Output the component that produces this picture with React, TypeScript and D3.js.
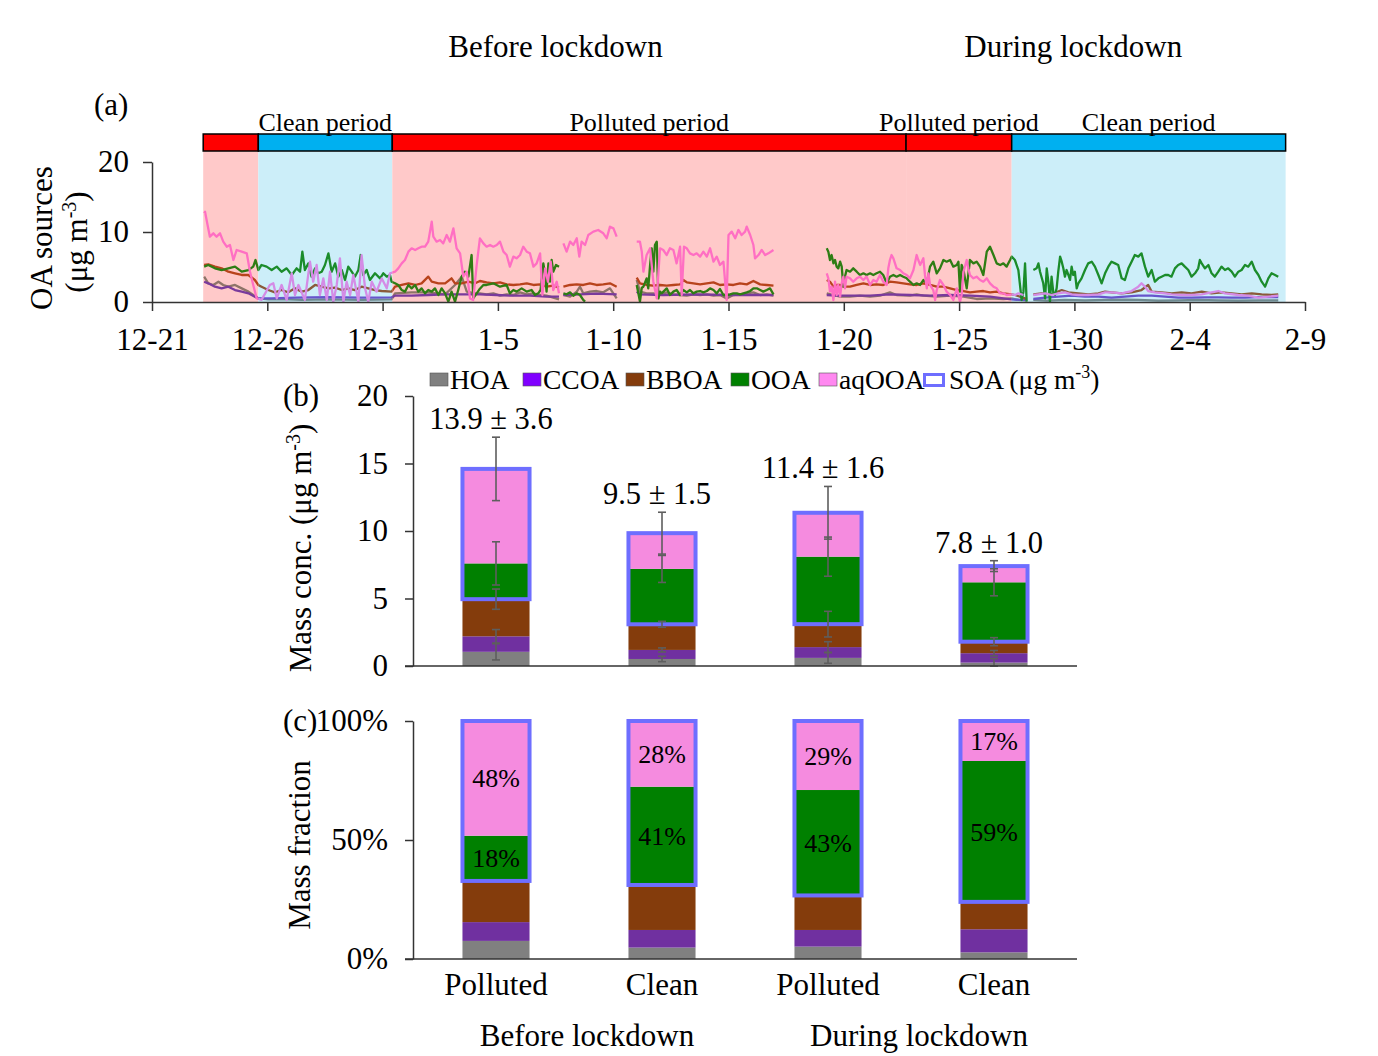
import { useEffect, useRef } from "react";
import * as d3 from "d3";

const FONT = "'Liberation Serif', 'Times New Roman', Times, serif";

// ---------- (a) time series ----------
// x = days after 2019-12-21 00:00, y = µg m-3, null marks a data gap
const seriesStart = new Date(2019, 11, 21);
const axisDays = [0, 5, 10, 15, 20, 25, 30, 35, 40, 45, 50];
const periodEdges = [2.22, 4.61, 10.42, 32.7, 37.28, 49.16];
const periodKinds = ["polluted", "clean", "polluted", "polluted", "clean"];
const periodNames = ["", "Clean period", "Polluted period", "Polluted period", "Clean period"];
const phaseNames = ["Before lockdown", "During lockdown"];
const phaseDays = [17.5, 39.95];

type Pt = [number, number | null];

const hoaTs: Pt[] = [
  [2.26, 3.62], [2.44, 2.67], [2.66, 2.43], [2.88, 2.9], [3.09, 2.43], [3.31, 2.19], [3.6, 2.43], [3.89, 1.95],
  [4.18, 1.48], [4.39, 1.0], [4.61, 0.52], [5.04, 0.38], [5.91, 0.38], [6.49, 0.29], [7.65, 0.38], [9.09, 0.29],
  [10.39, 0.38], [10.54, 1.24], [11.26, 1.38], [11.98, 1.38], [12.71, 1.1], [13.14, 2.43], [13.43, 3.62],
  [13.65, 1.48], [14.01, 1.24], [14.22, 1.24], [14.51, 1.1], [14.8, 1.24], [15.09, 0.9], [15.38, 1.1],
  [15.67, 1.0], [15.96, 1.38], [16.25, 1.1], [16.54, 1.24], [16.83, 1.0], [17.11, 0.9], [17.4, 0.62],
  [17.65, 0.38], [17.7, null],
  [17.84, 1.0], [18.13, 0.76], [18.42, 1.48], [18.56, 2.19], [18.7, 1.24], [18.99, 1.48], [19.28, 1.57],
  [19.57, 1.38], [19.86, 1.95], [20.15, 0.52], [20.3, null],
  [21.02, 3.14], [21.16, 1.48], [21.45, 1.24], [21.74, 1.24], [22.03, 1.1], [22.32, 1.38], [22.61, 1.1],
  [22.9, 1.0], [23.19, 0.9], [23.48, 1.1], [23.77, 1.0], [24.06, 1.1], [24.35, 0.9], [24.63, 1.0], [24.92, 0.52],
  [25.21, 1.0], [25.5, 1.1], [25.79, 1.24], [26.08, 1.38], [26.37, 1.0], [26.66, 1.1], [26.95, 0.9], [27.0, null],
  [29.26, 1.24], [29.55, 1.0], [29.84, 0.76], [30.27, 0.76], [30.7, 0.9], [31.14, 0.76], [31.57, 0.9],
  [32.0, 1.38], [32.29, 1.0], [32.87, 0.9], [33.16, 1.1], [33.45, 0.9], [34.03, 0.76], [34.61, 0.9],
  [35.19, 0.76], [35.76, 0.43], [36.34, 0.52], [36.92, 0.43], [37.28, 0.52], [37.57, 0.29], [37.93, 0.25],
  [38.05, null],
  [38.22, 0.29], [38.8, 0.19], [39.59, 0.29], [40.46, 0.24], [41.33, 0.29], [42.19, 0.33], [42.77, 0.29],
  [43.64, 0.19], [44.5, 0.24], [45.37, 0.29], [46.24, 0.24], [47.11, 0.19], [47.98, 0.24], [48.84, 0.24],
];

const ccoaTs: Pt[] = [
  [2.26, 2.9], [2.44, 2.67], [2.73, 2.19], [3.02, 1.95], [3.31, 2.19], [3.6, 1.71], [3.89, 1.48], [4.18, 1.24],
  [4.46, 0.76], [4.61, 0.52], [5.19, 0.52], [6.2, 0.62], [7.65, 0.71], [9.09, 0.62], [10.39, 0.67],
  [10.54, 0.9], [11.26, 0.9], [11.98, 1.0], [12.71, 1.1], [13.43, 1.1], [14.22, 1.1], [14.95, 1.0],
  [15.67, 0.9], [16.39, 0.9], [17.11, 0.76], [17.65, 0.76], [17.7, null],
  [17.84, 1.0], [18.56, 1.1], [19.28, 1.19], [20.15, 1.1], [20.3, null],
  [21.02, 1.48], [21.16, 1.1], [22.17, 1.0], [23.62, 1.1], [25.07, 1.0], [26.95, 1.0], [27.0, null],
  [29.26, 1.0], [29.69, 0.9], [30.27, 0.9], [31.14, 0.9], [32.0, 1.1], [32.87, 1.0], [33.74, 0.9],
  [34.61, 1.0], [35.47, 0.9], [36.34, 0.76], [36.92, 0.52], [37.28, 0.38], [37.71, 0.29], [37.93, 0.3],
  [38.05, null],
  [38.22, 0.43], [38.73, 0.62], [39.3, 0.76], [39.88, 0.9], [40.46, 0.76], [41.04, 0.76], [41.61, 0.62],
  [42.19, 0.76], [42.77, 0.9], [43.35, 0.9], [43.93, 0.76], [44.5, 0.62], [45.08, 0.62], [45.66, 0.67],
  [46.24, 0.67], [46.82, 0.62], [47.4, 0.62], [47.98, 0.71], [48.84, 0.71],
];

const bboaTs: Pt[] = [
  [2.26, 5.29], [2.44, 5.38], [2.73, 5.05], [3.02, 4.81], [3.31, 4.33], [3.6, 4.1], [3.89, 3.86], [4.18, 3.86],
  [4.46, 3.14], [4.61, 2.43], [4.75, 2.19], [5.04, 1.71], [5.33, 1.38], [5.62, 1.71], [5.91, 1.38], [6.2, 1.95],
  [6.49, 1.48], [6.78, 1.71], [7.07, 2.43], [7.36, 2.19], [7.65, 1.95], [7.94, 2.05], [8.23, 1.71], [8.51, 1.95],
  [8.8, 1.71], [9.09, 2.19], [9.38, 1.95], [9.67, 1.71], [9.96, 1.57], [10.39, 1.48],
  [10.54, 2.19], [10.83, 2.43], [11.12, 2.67], [11.41, 2.43], [11.69, 2.67], [11.98, 3.62], [12.13, 2.9],
  [12.42, 2.67], [12.71, 2.67], [12.99, 3.38], [13.14, 2.67], [13.43, 2.67], [13.72, 2.9], [14.01, 2.67],
  [14.22, 3.0], [14.51, 2.81], [14.8, 2.67], [15.09, 2.81], [15.38, 2.52], [15.67, 2.43], [15.96, 2.52],
  [16.25, 2.67], [16.54, 2.43], [16.83, 2.52], [17.11, 2.19], [17.4, 2.33], [17.65, 2.05], [17.7, null],
  [17.84, 2.19], [18.13, 2.43], [18.42, 2.52], [18.7, 2.43], [18.99, 2.67], [19.28, 2.43], [19.57, 2.52],
  [19.86, 2.67], [20.15, 2.19], [20.3, null],
  [21.02, 3.48], [21.16, 2.67], [21.45, 2.43], [21.74, 2.33], [22.03, 2.43], [22.32, 2.33], [22.61, 2.43],
  [22.9, 2.52], [23.04, 3.14], [23.19, 2.81], [23.48, 2.67], [23.77, 2.52], [24.06, 2.67], [24.35, 2.81],
  [24.63, 2.43], [24.92, 2.52], [25.21, 2.43], [25.5, 2.67], [25.79, 2.52], [26.08, 3.0], [26.37, 2.52],
  [26.66, 2.43], [26.95, 2.33], [27.0, null],
  [29.26, 3.14], [29.4, 2.9], [29.55, 2.19], [29.69, 2.43], [29.84, 2.43], [29.98, 2.19], [30.27, 2.19],
  [30.56, 2.43], [30.85, 2.67], [31.14, 2.43], [31.42, 2.52], [31.71, 2.43], [32.0, 2.9], [32.29, 2.81],
  [32.58, 2.67], [32.87, 2.52], [33.16, 2.43], [33.45, 2.67], [33.74, 2.43], [34.03, 2.19], [34.32, 2.19],
  [34.61, 1.95], [34.9, 1.71], [35.19, 1.57], [35.47, 1.38], [35.76, 1.48], [36.05, 1.57], [36.34, 1.38],
  [36.63, 1.48], [36.92, 1.24], [37.28, 1.1], [37.42, 1.0], [37.86, 0.52], [37.93, 0.4], [38.05, null],
  [38.22, 1.1], [38.58, 1.24], [39.01, 1.1], [39.45, 1.71], [39.74, 1.38], [40.17, 1.24], [40.6, 1.1],
  [41.04, 1.24], [41.33, 1.48], [41.61, 1.38], [42.05, 1.24], [42.48, 1.38], [42.91, 1.71], [43.2, 2.43],
  [43.35, 1.48], [43.78, 1.38], [44.21, 1.24], [44.65, 1.38], [45.08, 1.24], [45.52, 1.48], [45.95, 1.24],
  [46.38, 1.38], [46.82, 1.24], [47.25, 1.1], [47.69, 1.24], [48.12, 1.1], [48.55, 1.0], [48.84, 1.1],
];

const ooaTs: Pt[] = [
  [2.26, 5.05], [2.44, 5.29], [2.73, 4.81], [3.02, 4.57], [3.31, 4.81], [3.6, 5.05], [3.89, 4.33], [4.18, 4.57],
  [4.39, 5.05], [4.49, 6.0], [4.61, 4.57], [4.75, 5.29], [4.97, 5.05], [5.19, 4.57], [5.41, 5.05], [5.62, 4.33],
  [5.84, 4.81], [6.06, 3.86], [6.27, 4.81], [6.42, 4.33], [6.52, 7.19], [6.63, 4.57], [6.78, 5.52], [6.92, 3.62],
  [7.07, 4.81], [7.21, 4.1], [7.36, 4.33], [7.5, 5.29], [7.65, 6.95], [7.79, 4.33], [7.94, 5.52], [8.08, 3.62],
  [8.23, 4.57], [8.37, 3.14], [8.51, 5.05], [8.66, 4.33], [8.8, 3.62], [8.95, 4.57], [9.05, 6.71], [9.16, 3.86],
  [9.31, 4.57], [9.45, 3.14], [9.67, 4.1], [9.89, 3.38], [10.03, 4.1], [10.18, 3.62], [10.32, 3.86], [10.39, 2.9],
  [10.54, 2.67], [10.68, 2.43], [10.83, 1.71], [10.97, 1.48], [11.12, 2.43], [11.26, 1.95], [11.41, 2.43],
  [11.55, 1.48], [11.69, 1.95], [11.84, 1.24], [11.98, 1.71], [12.13, 1.48], [12.27, 1.95], [12.42, 1.0],
  [12.56, 1.95], [12.71, 1.24], [12.85, 0.05], [12.99, 1.48], [13.14, 0.05], [13.28, 1.71], [13.43, 3.62],
  [13.57, 4.33], [13.72, 3.62], [13.86, 6.71], [13.93, 0.52], [14.08, 1.24], [14.22, 1.9], [14.37, 2.43],
  [14.51, 2.43], [14.8, 2.67], [15.09, 2.19], [15.38, 2.43], [15.52, 1.24], [15.67, 1.71], [15.81, 1.48],
  [16.03, 1.95], [16.25, 1.48], [16.46, 1.71], [16.61, 1.0], [16.75, 1.24], [16.85, 1.71], [16.97, 5.52],
  [17.04, 4.1], [17.11, 1.48], [17.19, 5.52], [17.26, 2.9], [17.33, 6.0], [17.4, 4.33], [17.52, 5.29],
  [17.65, 5.05], [17.7, null],
  [17.84, 1.24], [17.98, 1.1], [18.13, 1.38], [18.27, 0.9], [18.42, 1.24], [18.56, 1.0], [18.7, 0.29],
  [18.78, 0.05], [18.85, null],
  [21.02, 2.43], [21.09, 1.24], [21.16, 0.05], [21.24, 2.05], [21.31, 2.19], [21.45, 3.38], [21.52, 1.95],
  [21.6, 5.29], [21.67, 7.67], [21.74, 4.33], [21.81, 8.14], [21.89, 8.62], [21.96, 0.52], [22.03, 1.48],
  [22.1, 1.24], [22.32, 1.95], [22.46, 1.0], [22.61, 1.48], [22.75, 1.71], [22.9, 1.0], [23.04, 1.71],
  [23.19, 1.38], [23.33, 1.71], [23.48, 1.24], [23.62, 1.48], [23.77, 1.57], [23.91, 1.38], [24.06, 1.57],
  [24.2, 1.95], [24.35, 1.71], [24.49, 1.24], [24.63, 1.86], [24.78, 1.0], [24.92, 1.0], [25.07, 1.1],
  [25.21, 1.24], [25.36, 1.24], [25.5, 1.1], [25.65, 1.24], [25.79, 1.38], [25.94, 1.57], [26.08, 1.95],
  [26.23, 1.95], [26.37, 1.71], [26.51, 1.48], [26.66, 1.71], [26.8, 1.95], [26.95, 1.1], [27.0, null],
  [29.26, 7.67], [29.33, 7.19], [29.4, 6.0], [29.47, 6.71], [29.55, 5.52], [29.62, 6.0], [29.69, 5.05],
  [29.76, 4.81], [29.84, 5.76], [29.91, 5.05], [29.98, 2.19], [30.05, 3.62], [30.12, 4.57], [30.27, 4.33],
  [30.41, 4.81], [30.56, 4.33], [30.7, 3.86], [30.85, 4.1], [30.99, 3.86], [31.14, 4.1], [31.28, 3.86],
  [31.42, 4.1], [31.57, 4.33], [31.71, 3.86], [31.86, 2.67], [32.0, 3.62], [32.15, 3.86], [32.29, 3.62],
  [32.44, 3.86], [32.58, 3.62], [32.73, 3.38], [32.87, 2.9], [33.02, 2.43], [33.16, 2.67], [33.31, 2.43],
  [33.45, 3.14], [33.6, 2.67], [33.74, 5.05], [33.88, 5.76], [34.03, 4.1], [34.17, 4.81], [34.32, 6.0],
  [34.46, 5.76], [34.61, 6.0], [34.75, 5.05], [34.9, 5.29], [34.97, 5.76], [35.04, 1.48], [35.11, 5.29],
  [35.19, 4.57], [35.33, 1.95], [35.47, 6.0], [35.62, 5.52], [35.76, 5.76], [35.91, 5.05], [36.05, 3.86],
  [36.2, 7.19], [36.34, 7.9], [36.49, 6.71], [36.63, 5.52], [36.78, 5.29], [36.92, 5.52], [37.06, 5.05],
  [37.21, 6.0], [37.28, 6.48], [37.42, 6.0], [37.57, 4.57], [37.64, 2.43], [37.71, 0.29], [37.79, 1.48],
  [37.86, 5.52], [37.93, 0.05], [38.05, null],
  [38.22, 4.57], [38.36, 4.81], [38.44, 5.52], [38.51, 4.33], [38.65, 2.67], [38.73, 0.52], [38.8, 4.81],
  [38.87, 2.9], [38.94, 0.05], [39.01, 3.62], [39.09, 1.24], [39.16, 1.0], [39.23, 1.95], [39.3, 4.33],
  [39.38, 6.48], [39.45, 5.76], [39.52, 4.81], [39.59, 3.62], [39.66, 4.57], [39.74, 3.86], [39.81, 3.14],
  [39.88, 5.05], [39.95, 3.86], [40.02, 4.33], [40.1, 1.95], [40.17, 2.67], [40.31, 3.38], [40.46, 4.57],
  [40.6, 5.52], [40.75, 5.76], [40.89, 5.05], [41.04, 3.86], [41.18, 2.67], [41.33, 4.1], [41.47, 5.05],
  [41.61, 5.76], [41.76, 5.52], [41.9, 5.29], [42.05, 3.38], [42.19, 3.14], [42.34, 4.81], [42.48, 5.76],
  [42.62, 6.71], [42.77, 6.48], [42.91, 6.95], [43.06, 5.05], [43.2, 3.62], [43.35, 4.57], [43.49, 2.9],
  [43.64, 3.38], [43.78, 3.62], [43.93, 3.86], [44.07, 3.86], [44.21, 3.62], [44.36, 4.81], [44.5, 5.29],
  [44.65, 5.52], [44.79, 5.05], [44.94, 4.57], [45.08, 3.62], [45.23, 4.1], [45.37, 4.81], [45.44, 6.0],
  [45.52, 5.52], [45.66, 4.81], [45.81, 5.29], [45.95, 4.1], [46.09, 3.62], [46.24, 4.33], [46.38, 5.05],
  [46.53, 4.57], [46.67, 4.81], [46.82, 4.33], [46.96, 3.62], [47.11, 4.33], [47.25, 4.57], [47.4, 5.29],
  [47.54, 5.05], [47.69, 5.76], [47.83, 4.57], [47.98, 3.86], [48.12, 2.9], [48.27, 2.19], [48.41, 3.38],
  [48.55, 4.1], [48.7, 3.86], [48.84, 3.62],
];

const aqooaTs: Pt[] = [
  [2.26, 12.67], [2.3, 12.9], [2.41, 11.0], [2.51, 9.33], [2.66, 9.81], [2.8, 9.33], [2.95, 9.81], [3.09, 8.62],
  [3.24, 7.9], [3.38, 8.14], [3.53, 6.0], [3.67, 7.43], [3.89, 7.19], [4.11, 6.95], [4.25, 4.33], [4.39, 2.43],
  [4.54, 0.52], [4.75, 0.3], [5.11, 2.43], [5.26, 2.67], [5.41, 0.52], [5.62, 2.43], [5.84, 0.29], [6.06, 4.1],
  [6.2, 1.0], [6.35, 2.43], [6.63, 0.29], [6.85, 5.76], [6.99, 2.9], [7.14, 5.29], [7.28, 1.0], [7.43, 3.38],
  [7.58, 0.29], [7.72, 4.33], [7.86, 0.05], [8.01, 2.43], [8.15, 6.24], [8.3, 0.05], [8.44, 2.9], [8.59, 1.0],
  [8.73, 3.86], [8.95, 0.05], [9.09, 6.71], [9.24, 1.95], [9.38, 0.05], [9.53, 2.9], [9.74, 1.48], [9.96, 3.38],
  [10.18, 1.95], [10.32, 4.1], [10.54, 4.33], [10.68, 4.81], [10.83, 5.52], [10.97, 6.0], [11.12, 7.19],
  [11.26, 7.67], [11.41, 7.43], [11.55, 7.67], [11.69, 7.9], [11.84, 7.9], [11.98, 8.62], [12.13, 11.48],
  [12.2, 9.33], [12.34, 8.62], [12.49, 8.86], [12.63, 8.38], [12.78, 9.57], [12.92, 8.62], [13.07, 10.52],
  [13.21, 7.67], [13.36, 6.95], [13.5, 3.62], [13.65, 4.33], [13.79, 0.52], [13.93, 0.29], [14.08, 5.29],
  [14.22, 9.1], [14.37, 8.38], [14.51, 7.9], [14.66, 8.14], [14.8, 7.9], [14.95, 8.14], [15.09, 8.62],
  [15.24, 7.19], [15.38, 6.71], [15.52, 5.05], [15.67, 6.48], [15.81, 6.24], [15.96, 6.71], [16.1, 7.9],
  [16.25, 7.19], [16.39, 6.95], [16.54, 5.05], [16.68, 5.52], [16.83, 6.95], [16.93, 1.0], [17.05, 4.81],
  [17.17, 2.9], [17.29, 5.76], [17.4, 1.71], [17.55, 2.9], [17.65, 1.24], [17.7, null],
  [17.84, 8.38], [17.98, 7.19], [18.13, 8.62], [18.27, 8.14], [18.42, 9.1], [18.53, 6.48], [18.63, 8.62],
  [18.78, 8.14], [18.92, 9.57], [19.14, 10.05], [19.35, 10.29], [19.57, 9.81], [19.72, 9.1], [19.86, 10.76],
  [20.01, 10.52], [20.15, 9.33], [20.3, null],
  [21.02, 8.62], [21.16, 8.62], [21.24, 7.19], [21.31, 4.33], [21.45, 6.71], [21.6, 7.67], [21.74, 2.9],
  [21.89, 0.52], [22.03, 7.67], [22.17, 7.43], [22.32, 6.71], [22.46, 7.67], [22.61, 7.43], [22.75, 5.52],
  [22.9, 7.9], [22.97, 1.0], [23.07, 7.9], [23.19, 7.67], [23.33, 6.95], [23.48, 6.71], [23.62, 6.95],
  [23.77, 6.48], [23.91, 7.19], [24.06, 6.48], [24.2, 7.67], [24.35, 5.76], [24.49, 6.48], [24.63, 5.29],
  [24.78, 5.76], [24.92, 0.29], [25.0, 9.57], [25.14, 10.05], [25.29, 9.1], [25.43, 10.29], [25.57, 9.57],
  [25.72, 10.05], [25.79, 10.76], [25.94, 9.57], [26.08, 8.14], [26.15, 6.24], [26.3, 6.71], [26.44, 7.43],
  [26.59, 6.71], [26.73, 6.95], [26.95, 7.43], [27.0, null],
  [29.26, 4.1], [29.33, 3.38], [29.4, 1.48], [29.47, 2.19], [29.55, 0.29], [29.62, 2.9], [29.69, 1.0],
  [29.76, 2.43], [29.84, 0.76], [29.91, 2.67], [29.98, 3.62], [30.05, 1.95], [30.12, 3.62], [30.27, 3.38],
  [30.41, 2.9], [30.56, 3.38], [30.7, 3.62], [30.85, 3.14], [30.99, 3.62], [31.14, 2.43], [31.28, 3.14],
  [31.42, 2.9], [31.57, 3.86], [31.71, 2.9], [31.86, 2.43], [31.93, 4.81], [32.0, 6.0], [32.07, 6.71],
  [32.15, 6.24], [32.22, 5.52], [32.29, 4.81], [32.44, 4.57], [32.58, 4.1], [32.73, 3.86], [32.87, 3.38],
  [33.02, 4.57], [33.16, 6.71], [33.23, 6.0], [33.31, 5.29], [33.45, 6.24], [33.52, 3.86], [33.6, 1.95],
  [33.67, 4.1], [33.74, 2.43], [33.88, 1.71], [33.96, 0.29], [34.03, 1.71], [34.17, 3.14], [34.32, 2.43],
  [34.46, 1.48], [34.61, 1.0], [34.75, 0.29], [34.9, 1.95], [35.04, 0.05], [35.11, 1.0], [35.19, 4.33],
  [35.33, 6.0], [35.4, 4.81], [35.47, 3.86], [35.62, 3.38], [35.76, 3.62], [35.91, 3.14], [36.05, 2.9],
  [36.2, 3.38], [36.34, 2.67], [36.49, 2.19], [36.63, 1.95], [36.78, 1.24], [36.92, 1.24], [37.06, 1.0],
  [37.28, 1.1], [37.42, 1.0], [37.57, 1.24], [37.79, 1.0], [38.05, null],
  [38.22, 1.0], [38.44, 1.1], [38.73, 1.24], [39.01, 1.0], [39.3, 1.24], [39.59, 1.38], [39.88, 1.1],
  [40.17, 1.0], [40.6, 1.0], [41.04, 1.1], [41.33, 1.38], [41.61, 1.38], [42.05, 1.24], [42.48, 1.57],
  [42.77, 2.19], [42.91, 2.67], [43.06, 2.19], [43.2, 1.57], [43.49, 1.38], [43.93, 1.24], [44.21, 1.1],
  [44.65, 1.0], [45.08, 1.0], [45.52, 1.1], [45.95, 1.38], [46.24, 1.57], [46.53, 1.24], [47.11, 1.0],
  [47.54, 0.9], [47.98, 0.62], [48.41, 0.76], [48.84, 0.9],
];

// ---------- (b) and (c) bars ----------
const groups = ["Polluted", "Clean", "Polluted", "Clean"];
const groupPhase = ["Before lockdown", "Before lockdown", "During lockdown", "During lockdown"];
const factorNames = ["HOA", "CCOA", "BBOA", "OOA", "aqOOA"];

// mass concentrations, µg m-3
const hoaConc = [1.05, 0.52, 0.6, 0.25];
const ccoaConc = [1.15, 0.67, 0.8, 0.7];
const bboaConc = [2.75, 1.9, 1.7, 0.85];
const ooaConc = [2.65, 4.1, 5.0, 4.4];
const aqooaConc = [7.0, 2.65, 3.25, 1.2];
// standard deviations drawn at the top of each stacked part
const hoaSd = [0.6, 0.2, 0.4, 0.3];
const ccoaSd = [0.5, 0.15, 0.4, 0.2];
const bboaSd = [0.75, 0.22, 0.95, 0.3];
const ooaSd = [1.6, 1.0, 1.45, 1.0];
const aqooaSd = [2.35, 1.55, 1.95, 0.4];
const totalMean = [13.9, 9.5, 11.4, 7.8];
const totalSd = [3.6, 1.5, 1.6, 1.0];

// mass fractions, %
const hoaPct = [7.6, 4.8, 5.2, 2.8];
const ccoaPct = [7.9, 7.4, 7.0, 9.7];
const bboaPct = [17.3, 18.9, 14.5, 11.5];
const ooaPct = [19.0, 41.3, 44.3, 59.2];
const aqooaPct = [48.2, 27.6, 29.0, 16.8];
const ooaPctLabel = ["18%", "41%", "43%", "59%"];
const aqooaPctLabel = ["48%", "28%", "29%", "17%"];

const barColors = ["#808080", "#7030A0", "#843C0C", "#008000", "#F58BDF"];
const legendColors = ["#808080", "#8000FF", "#843C0C", "#008000", "#FF88F0"];
const soaColor = "#6E6EFF";
const tsColors = [
  // [polluted background, clean background]
  ["#8E7468", "#6F8A90"],
  ["#7A3A9C", "#6655CC"],
  ["#B8431C", "#8A5A3A"],
  ["#2E7D14", "#1B8C2B"],
  ["#FF6FC3", "#D48CE6"],
];

const dayToDate = (d: number) => new Date(seriesStart.getTime() + d * 86400000);

function addUnit(t: any, prefix: string, supSize: number) {
  t.append("tspan").text(prefix + "(μg m");
  t.append("tspan").attr("dy", -11).attr("font-size", supSize).text("-3");
  t.append("tspan").attr("dy", 11).text(")");
}

function styleAxis(g: any, size: number) {
  g.attr("font-family", FONT).attr("font-size", size);
  g.selectAll("path").attr("stroke", "#333").attr("stroke-width", 1.5);
  g.selectAll("line").attr("stroke", "#333").attr("stroke-width", 1.5);
  g.selectAll("text").attr("fill", "#000");
}

const App = () => {
  const ref = useRef<SVGSVGElement>(null);

  useEffect(() => {
    const svg = d3.select(ref.current);
    svg.selectAll("*").remove();
    svg.attr("font-family", FONT);

    // ===== panel (a) =====
    const x = d3.scaleTime().domain([dayToDate(0), dayToDate(50)]).range([152, 1305]);
    const y = d3.scaleLinear().domain([0, 20]).range([302, 162]);
    const px = (d: number) => x(dayToDate(d));

    const defs = svg.append("defs");
    ["polluted", "clean"].forEach((kind) => {
      const cp = defs.append("clipPath").attr("id", "clip-" + kind);
      periodKinds.forEach((k, i) => {
        if (k !== kind) return;
        cp.append("rect")
          .attr("x", px(periodEdges[i]))
          .attr("y", 140)
          .attr("width", px(periodEdges[i + 1]) - px(periodEdges[i]))
          .attr("height", 180);
      });
    });

    // shaded periods
    periodKinds.forEach((k, i) => {
      const x0 = px(periodEdges[i]);
      const x1 = px(periodEdges[i + 1]);
      svg.append("rect")
        .attr("x", x0).attr("y", 151)
        .attr("width", x1 - x0).attr("height", y(0) - 151)
        .attr("fill", k === "clean" ? "#CCEEF9" : "#FFC9C9");
    });

    // period bar on top
    periodKinds.forEach((k, i) => {
      const x0 = px(periodEdges[i]);
      const x1 = px(periodEdges[i + 1]);
      svg.append("rect")
        .attr("x", x0).attr("y", 134)
        .attr("width", x1 - x0).attr("height", 17)
        .attr("fill", k === "clean" ? "#00B0F0" : "#FF0000")
        .attr("stroke", "#000").attr("stroke-width", 1.5);
      if (periodNames[i]) {
        svg.append("text")
          .attr("x", (x0 + x1) / 2).attr("y", 131)
          .attr("text-anchor", "middle").attr("font-size", 26)
          .text(periodNames[i]);
      }
    });

    phaseNames.forEach((name, i) => {
      svg.append("text")
        .attr("x", px(phaseDays[i])).attr("y", 57)
        .attr("text-anchor", "middle").attr("font-size", 31)
        .text(name);
    });

    // lines
    const line = d3.line<Pt>()
      .defined((d) => d[1] !== null)
      .x((d) => px(d[0]))
      .y((d) => y(d[1] as number));

    const allTs = [hoaTs, ccoaTs, bboaTs, ooaTs, aqooaTs];
    allTs.forEach((data, i) => {
      ["polluted", "clean"].forEach((kind, j) => {
        svg.append("path")
          .datum(data)
          .attr("d", line)
          .attr("fill", "none")
          .attr("stroke", tsColors[i][j])
          .attr("stroke-width", 2.3)
          .attr("stroke-linejoin", "round")
          .attr("clip-path", `url(#clip-${kind})`);
      });
    });

    // axes
    const xAxis = svg.append("g")
      .attr("transform", `translate(0,${y(0)})`)
      .call(
        d3.axisBottom(x)
          .tickValues(axisDays.map(dayToDate))
          .tickFormat(d3.timeFormat("%-m-%-d") as any)
          .tickSize(9)
          .tickSizeOuter(0)
          .tickPadding(17)
      );
    styleAxis(xAxis, 31);

    const yAxis = svg.append("g")
      .attr("transform", `translate(${x.range()[0]},0)`)
      .call(d3.axisLeft(y).tickValues([0, 10, 20]).tickSize(9).tickSizeOuter(0).tickPadding(14));
    styleAxis(yAxis, 31);

    svg.append("text").attr("x", 94).attr("y", 115).attr("font-size", 31).text("(a)");
    svg.append("text")
      .attr("transform", "translate(52,238) rotate(-90)")
      .attr("text-anchor", "middle").attr("font-size", 31)
      .text("OA sources");
    const unitA = svg.append("text")
      .attr("transform", "translate(87,242) rotate(-90)")
      .attr("text-anchor", "middle").attr("font-size", 31);
    addUnit(unitA, "", 20);

    // ===== panels (b) and (c) =====
    const xb = d3.scaleBand<number>()
      .domain(groups.map((_, i) => i))
      .range([413, 1077])
      .paddingInner(0.596)
      .paddingOuter(0.298);
    const bw = xb.bandwidth();
    const cx = (i: number) => (xb(i) as number) + bw / 2;

    const concRows = groups.map((_, i) => ({
      HOA: hoaConc[i], CCOA: ccoaConc[i], BBOA: bboaConc[i], OOA: ooaConc[i], aqOOA: aqooaConc[i],
    }));
    const pctRows = groups.map((_, i) => ({
      HOA: hoaPct[i], CCOA: ccoaPct[i], BBOA: bboaPct[i], OOA: ooaPct[i], aqOOA: aqooaPct[i],
    }));
    const sds = [hoaSd, ccoaSd, bboaSd, ooaSd, aqooaSd];
    const stackGen = d3.stack<any>().keys(factorNames);
    const concStack = stackGen(concRows);
    const pctStack = stackGen(pctRows);

    const yb = d3.scaleLinear().domain([0, 20]).range([666, 396]);
    const yc = d3.scaleLinear().domain([0, 100]).range([959, 721]);

    const drawBars = (stack: any[], ys: d3.ScaleLinear<number, number>) => {
      stack.forEach((layer, k) => {
        layer.forEach((d: any, i: number) => {
          svg.append("rect")
            .attr("x", xb(i) as number)
            .attr("y", ys(d[1]))
            .attr("width", bw)
            .attr("height", ys(d[0]) - ys(d[1]))
            .attr("fill", barColors[k]);
        });
      });
      // SOA = OOA + aqOOA outline
      groups.forEach((_, i) => {
        const top = ys(stack[4][i][1]);
        const bottom = ys(stack[3][i][0]);
        svg.append("rect")
          .attr("x", xb(i) as number)
          .attr("y", top)
          .attr("width", bw)
          .attr("height", bottom - top)
          .attr("fill", "none")
          .attr("stroke", soaColor)
          .attr("stroke-width", 4);
      });
    };

    drawBars(concStack, yb);
    drawBars(pctStack, yc);

    // error bars in (b)
    concStack.forEach((layer, k) => {
      layer.forEach((d: any, i: number) => {
        const top = d[1];
        const hi = yb(top + sds[k][i]);
        const lo = yb(Math.max(0, top - sds[k][i]));
        const c = cx(i);
        const g = svg.append("g").attr("stroke", "#5E5E5E").attr("stroke-width", 1.6);
        g.append("line").attr("x1", c).attr("x2", c).attr("y1", hi).attr("y2", lo);
        g.append("line").attr("x1", c - 4).attr("x2", c + 4).attr("y1", hi).attr("y2", hi);
        g.append("line").attr("x1", c - 4).attr("x2", c + 4).attr("y1", lo).attr("y2", lo);
      });
    });

    // totals above bars
    groups.forEach((_, i) => {
      const top = concStack[4][i][1] + aqooaSd[i];
      svg.append("text")
        .attr("x", cx(i) - 5)
        .attr("y", yb(top) - 8)
        .attr("text-anchor", "middle")
        .attr("font-size", 30.5)
        .text(`${totalMean[i].toFixed(1)} ± ${totalSd[i].toFixed(1)}`);
    });

    // percentage labels in (c)
    groups.forEach((_, i) => {
      const ooaMid = (pctStack[3][i][0] + pctStack[3][i][1]) / 2;
      const aqMid = (pctStack[4][i][0] + pctStack[4][i][1]) / 2;
      [[ooaMid, ooaPctLabel[i]], [aqMid, aqooaPctLabel[i]]].forEach(([v, lab]) => {
        svg.append("text")
          .attr("x", cx(i))
          .attr("y", yc(v as number))
          .attr("dy", "0.35em")
          .attr("text-anchor", "middle")
          .attr("font-size", 26)
          .text(lab as string);
      });
    });

    // axes (b)
    const ybAxis = svg.append("g")
      .attr("transform", "translate(413,0)")
      .call(d3.axisLeft(yb).tickValues([0, 5, 10, 15, 20]).tickSize(8).tickSizeOuter(0).tickPadding(17));
    styleAxis(ybAxis, 31);
    svg.append("line").attr("x1", 405).attr("x2", 1077).attr("y1", yb(0)).attr("y2", yb(0))
      .attr("stroke", "#333").attr("stroke-width", 1.5);

    // axes (c)
    const ycAxis = svg.append("g")
      .attr("transform", "translate(413,0)")
      .call(d3.axisLeft(yc).tickValues([0, 50, 100]).tickFormat((d) => `${d}%`).tickSize(8).tickSizeOuter(0).tickPadding(17));
    styleAxis(ycAxis, 31);
    svg.append("line").attr("x1", 405).attr("x2", 1077).attr("y1", yc(0)).attr("y2", yc(0))
      .attr("stroke", "#333").attr("stroke-width", 1.5);

    svg.append("text").attr("x", 283).attr("y", 406).attr("font-size", 31).text("(b)");
    svg.append("text").attr("x", 283).attr("y", 731).attr("font-size", 31).text("(c)");

    const unitB = svg.append("text")
      .attr("transform", "translate(311,548) rotate(-90)")
      .attr("text-anchor", "middle").attr("font-size", 31);
    addUnit(unitB, "Mass conc. ", 20);

    svg.append("text")
      .attr("transform", "translate(310,845) rotate(-90)")
      .attr("text-anchor", "middle").attr("font-size", 31)
      .text("Mass fraction");

    // category labels
    groups.forEach((name, i) => {
      svg.append("text")
        .attr("x", cx(i)).attr("y", 995)
        .attr("text-anchor", "middle").attr("font-size", 31)
        .text(name);
    });
    phaseNames.forEach((name) => {
      const idx = groupPhase.map((p, i) => (p === name ? i : -1)).filter((i) => i >= 0);
      const mid = d3.mean(idx.map(cx)) as number;
      svg.append("text")
        .attr("x", mid + 8).attr("y", 1046)
        .attr("text-anchor", "middle").attr("font-size", 31)
        .text(name);
    });

    // legend
    const legendSwatchX = [430, 523, 626, 731, 819, 923];
    const legendNames = [...factorNames, "SOA "];
    legendNames.forEach((name, i) => {
      const sx = legendSwatchX[i];
      if (i < 5) {
        svg.append("rect")
          .attr("x", sx).attr("y", 373).attr("width", 18).attr("height", 13)
          .attr("fill", legendColors[i]).attr("stroke", "#555").attr("stroke-width", 0.6);
      } else {
        svg.append("rect")
          .attr("x", sx + 1.5).attr("y", 374.5).attr("width", 19).attr("height", 11)
          .attr("fill", "#fff").attr("stroke", soaColor).attr("stroke-width", 3);
      }
      const t = svg.append("text")
        .attr("x", sx + (i < 5 ? 20 : 26)).attr("y", 389)
        .attr("font-size", 27.5);
      if (i < 5) t.text(name);
      else addUnit(t, name, 18);
    });
  }, []);

  return (
    <svg
      ref={ref}
      width={1378}
      height={1056}
      style={{ position: "absolute", left: 0, top: 0, background: "#fff" }}
    />
  );
};

export default App;
